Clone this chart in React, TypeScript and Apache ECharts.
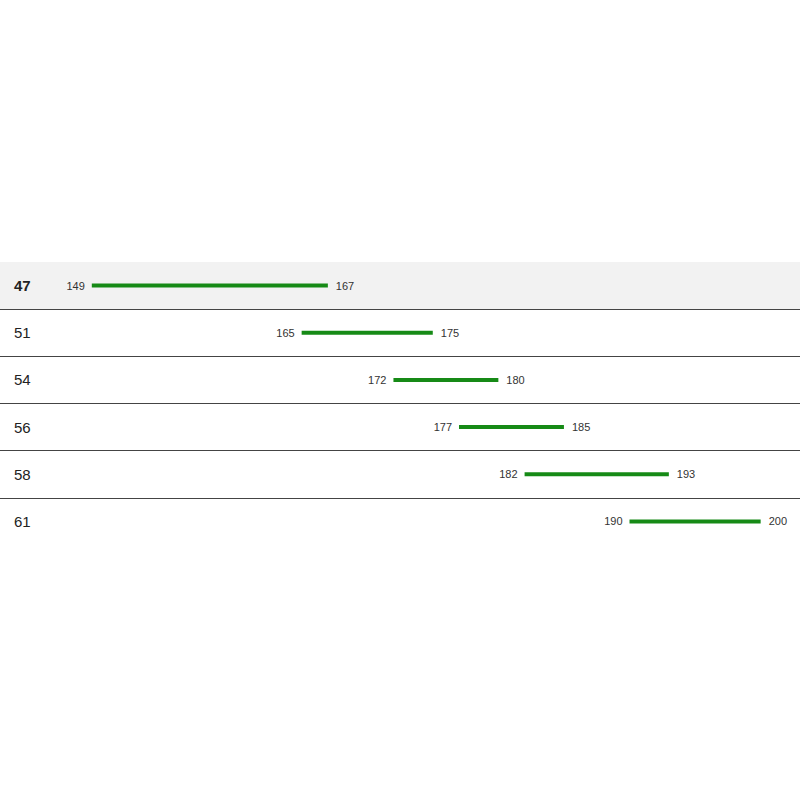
import React, { useEffect, useRef } from "react";
import * as echarts from "echarts";

const rowLabels = ["47", "51", "54", "56", "58", "61"];
const lowValues = [149, 165, 172, 177, 182, 190];
const highValues = [167, 175, 180, 185, 193, 200];

const BAR_COLOR = "#168a16";
const FONT = "Liberation Sans, Arial, sans-serif";

export default function App() {
  const ref = useRef<HTMLDivElement>(null);
  useEffect(() => {
    if (!ref.current) return;
    const chart = echarts.init(ref.current, null, { renderer: "svg" });
    const data = rowLabels.map((r, i) => [r, lowValues[i], highValues[i]]);
    chart.setOption({
      animation: false,
      backgroundColor: "#ffffff",
      grid: { left: 0, right: 0, top: 262, bottom: 255 },
      xAxis: {
        type: "value",
        min: 142,
        max: 203,
        show: false,
        splitLine: { show: false },
      },
      yAxis: {
        type: "category",
        data: rowLabels,
        inverse: true,
        axisLine: { show: false },
        axisTick: { show: false },
        axisLabel: {
          inside: true,
          margin: 14,
          color: "#222",
          fontSize: 15,
          fontFamily: FONT,
          formatter: (v: string) => (v === rowLabels[0] ? "{b|" + v + "}" : v),
          rich: { b: { fontWeight: "bold", fontSize: 15, color: "#222", fontFamily: FONT } },
        },
        splitLine: {
          show: true,
          interval: (index: number) => index > 0 && index < rowLabels.length,
          lineStyle: { color: "#444", width: 1 },
        },
        splitArea: {
          show: true,
          interval: 0,
          areaStyle: { color: ["#f2f2f2", "#ffffff", "#ffffff", "#ffffff", "#ffffff", "#ffffff"] },
        },
        z: 1,
      },
      graphic: [
        {
          type: "rect",
          left: 0,
          top: 544,
          shape: { width: 800, height: 3 },
          style: { fill: "#ffffff" },
          z: 100,
        },
      ],
      series: [
        {
          type: "custom",
          encode: { y: 0, x: [1, 2] },
          data,
          renderItem: (params: any, api: any) => {
            const cat = api.value(0);
            const lo = api.value(1);
            const hi = api.value(2);
            const p1 = api.coord([lo, cat]);
            const p2 = api.coord([hi, cat]);
            const textStyle = { fill: "#333", fontSize: 11, fontFamily: FONT };
            return {
              type: "group",
              children: [
                {
                  type: "rect",
                  shape: { x: p1[0], y: p1[1] - 2, width: p2[0] - p1[0], height: 4 },
                  style: { fill: BAR_COLOR },
                },
                {
                  type: "text",
                  x: p1[0] - 7,
                  y: p1[1],
                  style: { ...textStyle, text: String(lo), align: "right", verticalAlign: "middle" },
                },
                {
                  type: "text",
                  x: p2[0] + 8,
                  y: p2[1],
                  style: { ...textStyle, text: String(hi), align: "left", verticalAlign: "middle" },
                },
              ],
            };
          },
        },
      ],
    });
    return () => chart.dispose();
  }, []);
  return (
    <div
      ref={ref}
      style={{ position: "fixed", left: 0, top: 0, width: 800, height: 800 }}
    />
  );
}
